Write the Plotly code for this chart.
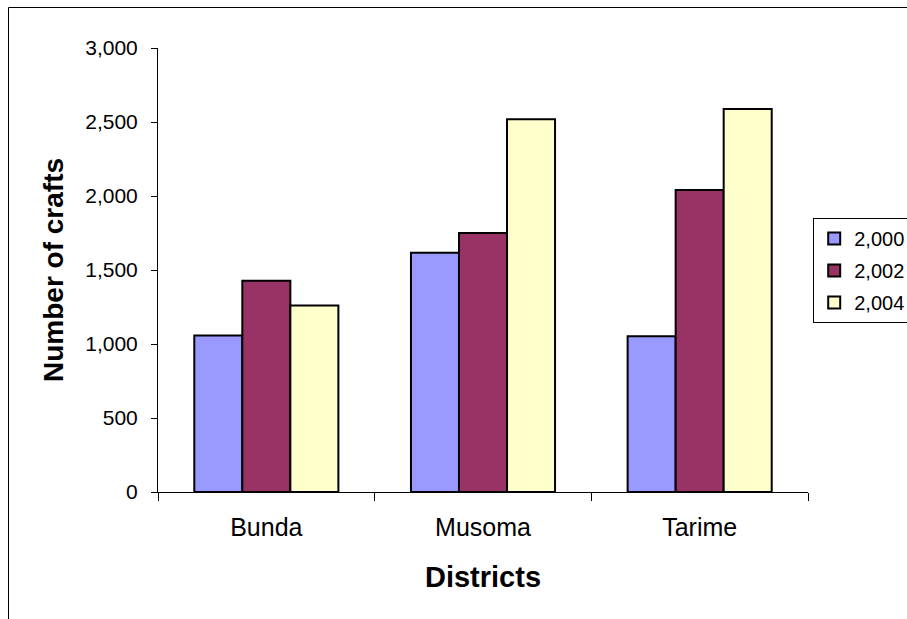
import plotly.graph_objects as go

# Registered craft counts per district
districts = ["Bunda", "Musoma", "Tarime"]
years = ["2,000", "2,002", "2,004"]
crafts_2000 = [1058, 1616, 1052]
crafts_2002 = [1428, 1750, 2040]
crafts_2004 = [1260, 2518, 2588]
series_values = [crafts_2000, crafts_2002, crafts_2004]
colors = ["#9999FF", "#993366", "#FFFFCC"]

y_ticks = [0, 500, 1000, 1500, 2000, 2500, 3000]

FONT = "Arial, Liberation Sans, sans-serif"

fig = go.Figure()
for i, (name, vals, col) in enumerate(zip(years, series_values, colors)):
    fig.add_trace(go.Bar(
        x=districts, y=vals, name=name, legendgroup=f"g{i}",
        marker=dict(color=col, line=dict(color="black", width=2)),
    ))

fig.update_layout(
    width=907, height=619,
    margin=dict(l=158, r=99, t=48, b=127, autoexpand=False),
    paper_bgcolor="white", plot_bgcolor="white",
    font=dict(family=FONT, color="black"),
    barmode="group", bargap=0.335, bargroupgap=0,
    showlegend=True,
    legend=dict(
        x=1.008, y=0.617, xanchor="left", yanchor="top",
        bordercolor="black", borderwidth=1, bgcolor="white",
        font=dict(size=20, family=FONT), traceorder="grouped",
        tracegroupgap=3, itemwidth=30,
    ),
    xaxis=dict(
        showline=True, linecolor="black", linewidth=1,
        ticks="outside", tickson="boundaries", ticklen=8, tickcolor="black",
        tickfont=dict(size=25, family=FONT), ticklabelstandoff=13,
        showgrid=False, zeroline=False,
        title=dict(text="<b>Districts</b>", font=dict(size=29, family=FONT), standoff=26),
    ),
    yaxis=dict(
        range=[0, 3000], tickvals=y_ticks, tickformat=",",
        showline=True, linecolor="black", linewidth=1,
        ticks="outside", ticklen=6, tickcolor="black",
        tickfont=dict(size=21, family=FONT), ticklabelstandoff=9,
        showgrid=False, zeroline=False,
        title=dict(text="<b>Number of crafts</b>", font=dict(size=28, family=FONT), standoff=13),
    ),
    shapes=[dict(
        type="rect", xref="paper", yref="paper",
        x0=-0.230, x1=2.0, y0=-1.0, y1=1.0912,
        line=dict(color="black", width=1), fillcolor="rgba(0,0,0,0)", layer="below",
    )],
)

fig.write_html("out.html")
